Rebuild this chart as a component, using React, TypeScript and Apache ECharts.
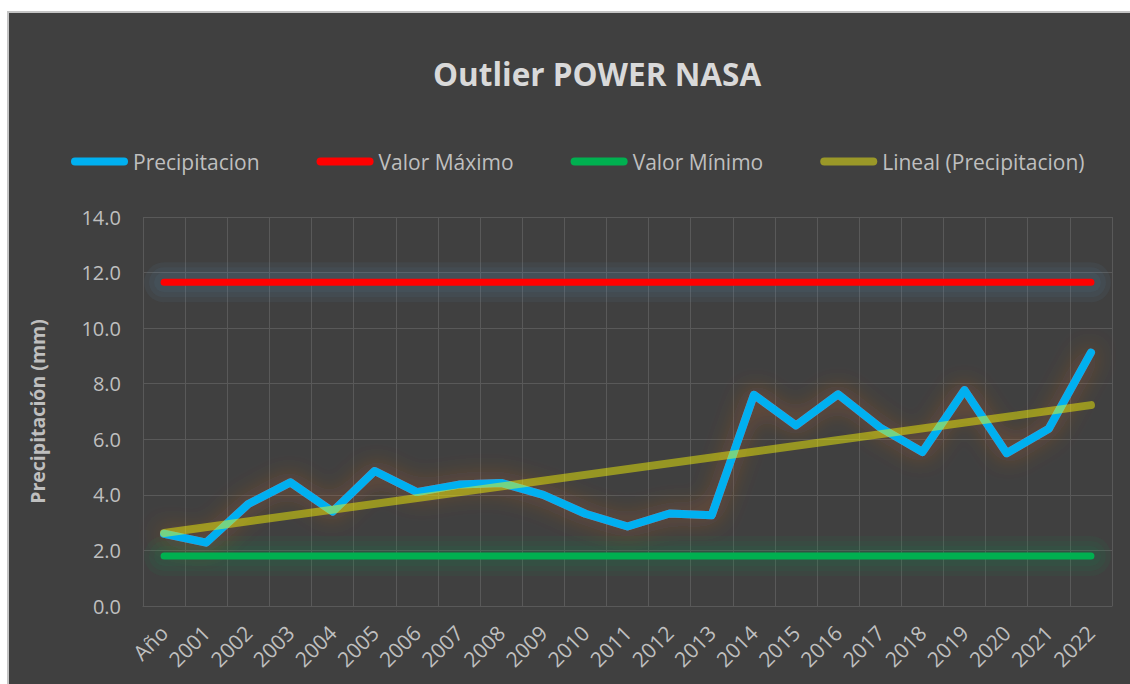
import React, { useEffect, useRef } from "react";
import * as echarts from "echarts";

const categories = ["Año", "2001", "2002", "2003", "2004", "2005", "2006", "2007", "2008", "2009", "2010", "2011", "2012", "2013", "2014", "2015", "2016", "2017", "2018", "2019", "2020", "2021", "2022"];
const precipitacion = [2.6, 2.28, 3.67, 4.45, 3.4, 4.86, 4.1, 4.37, 4.43, 4.0, 3.32, 2.86, 3.33, 3.27, 7.6, 6.5, 7.62, 6.42, 5.54, 7.77, 5.5, 6.38, 9.12];
const valorMaximo = 11.65;
const valorMinimo = 1.8;
const linealInicio = 2.63;
const linealFin = 7.23;
const yTicks = { min: 0, max: 14, interval: 2 };

const FONT = "'Open Sans', 'Noto Sans', sans-serif";
const PILL = "path://M4,0 L53,0 A4,4 0 0 1 53,8 L4,8 A4,4 0 0 1 4,0 Z";

export default function App() {
  const ref = useRef<HTMLDivElement>(null);
  useEffect(() => {
    if (!ref.current) return;
    const chart = echarts.init(ref.current, null, { renderer: "svg" });
    const first = categories[0];
    const last = categories[categories.length - 1];
    const maxData = [[first, valorMaximo], [last, valorMaximo]];
    const minData = [[first, valorMinimo], [last, valorMinimo]];
    const glow = (name: string, data: any, rgb: string, widths: number[], alpha: number) =>
      widths.map((w, i) => ({
        name: name + i,
        type: "line",
        data,
        symbol: "none",
        silent: true,
        lineStyle: { color: `rgba(${rgb},${alpha})`, width: w, cap: "round" },
        z: 1,
      }));
    chart.setOption({
      animation: false,
      backgroundColor: "#404040",
      textStyle: { fontFamily: FONT },
      graphic: [
        { type: "rect", shape: { x: 0, y: 0, width: 1130, height: 11 }, style: { fill: "#ffffff" }, silent: true },
        { type: "rect", shape: { x: 0, y: 0, width: 7, height: 684 }, style: { fill: "#ffffff" }, silent: true },
        { type: "rect", shape: { x: 7, y: 11, width: 1123, height: 2 }, style: { fill: "#c4c4c4" }, silent: true },
        { type: "rect", shape: { x: 7, y: 11, width: 2, height: 673 }, style: { fill: "#c4c4c4" }, silent: true },
      ],
      title: {
        text: "Outlier POWER NASA",
        left: 428,
        top: 52,
        textStyle: { color: "#d9d9d9", fontSize: 31.5, fontWeight: "bold", fontFamily: FONT },
      },
      legend: {
        left: 66,
        top: 146,
        itemWidth: 57,
        itemHeight: 8,
        itemGap: 57,
        textStyle: { color: "#bfbfbf", fontSize: 21, fontFamily: FONT },
        data: [
          { name: "Precipitacion", icon: PILL, itemStyle: { color: "#00B0F0" } },
          { name: "Valor Máximo", icon: PILL, itemStyle: { color: "#FF0000" } },
          { name: "Valor Mínimo", icon: PILL, itemStyle: { color: "#00B050" } },
          { name: "Lineal (Precipitacion)", icon: PILL, itemStyle: { color: "#9a9828" } },
        ],
      },
      grid: { left: 143, right: 18, top: 217, bottom: 78 },
      xAxis: {
        type: "category",
        data: categories,
        boundaryGap: true,
        axisLine: { show: true, lineStyle: { color: "#595959", width: 1 } },
        axisTick: { show: false },
        splitLine: { show: true, lineStyle: { color: "#595959", width: 1 } },
        axisLabel: { rotate: 45, color: "#bfbfbf", fontSize: 21, margin: 23, interval: 0, fontFamily: FONT },
      },
      yAxis: {
        type: "value",
        min: yTicks.min,
        max: yTicks.max,
        interval: yTicks.interval,
        name: "Precipitación (mm)",
        nameLocation: "middle",
        nameRotate: 90,
        nameGap: 96,
        nameTextStyle: { color: "#bfbfbf", fontSize: 19.5, fontWeight: "bold", fontFamily: FONT },
        axisLine: { show: false },
        axisTick: { show: false },
        splitLine: { show: true, lineStyle: { color: "#595959", width: 1 } },
        axisLabel: { color: "#bfbfbf", fontSize: 20, margin: 22, formatter: (v: number) => v.toFixed(1), fontFamily: FONT },
      },
      series: [
        ...glow("glowMax", maxData, "90,140,175", [40, 30, 20], 0.08),
        ...glow("glowMin", minData, "0,176,80", [40, 30, 20], 0.06),
        {
          name: "Precipitacion",
          type: "line",
          data: precipitacion,
          symbol: "none",
          lineStyle: { color: "#00B0F0", width: 8, cap: "round", join: "round", shadowColor: "rgba(200,100,40,0.65)", shadowBlur: 24 },
          itemStyle: { color: "#00B0F0" },
          z: 2,
        },
        {
          name: "Valor Máximo",
          type: "line",
          data: maxData,
          symbol: "none",
          lineStyle: { color: "#FF0000", width: 7, cap: "round" },
          itemStyle: { color: "#FF0000" },
          z: 2,
        },
        {
          name: "Valor Mínimo",
          type: "line",
          data: minData,
          symbol: "none",
          lineStyle: { color: "#00B050", width: 7, cap: "round" },
          itemStyle: { color: "#00B050" },
          z: 2,
        },
        {
          name: "Lineal (Precipitacion)",
          type: "line",
          data: [[first, linealInicio], [last, linealFin]],
          symbol: "none",
          lineStyle: { color: "rgba(255,255,0,0.45)", width: 8, cap: "round" },
          itemStyle: { color: "#9a9828" },
          z: 3,
        },
      ],
    });
    return () => chart.dispose();
  }, []);
  return <div ref={ref} style={{ position: "fixed", left: 0, top: 0, width: 1130, height: 684 }} />;
}
